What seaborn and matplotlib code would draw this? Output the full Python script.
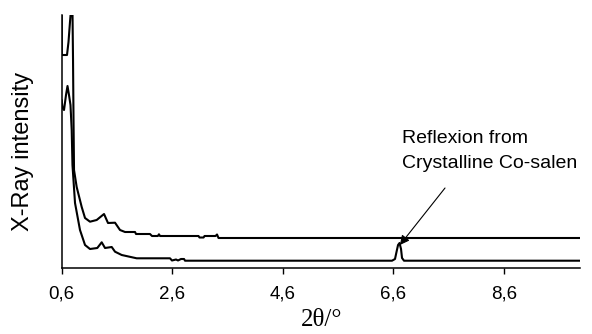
import matplotlib
matplotlib.use("Agg")
import matplotlib.pyplot as plt
import seaborn as sns
import pandas as pd

# 2theta (deg) and X-ray intensity (arbitrary units)
upper_x = [0.600, 0.601, 0.696, 0.723, 0.750, 0.768, 0.795, 0.805, 0.814, 0.823,
           0.871, 0.962, 1.022, 1.112, 1.233, 1.366, 1.438, 1.565, 1.655, 1.746,
           1.927, 1.945, 2.198, 2.234, 2.340, 2.360, 2.380, 3.076, 3.094, 3.167,
           3.185, 3.384, 3.411, 3.438, 9.980]
upper_y = [262, 213, 213, 226, 246, 258, 258, 208, 148, 98,
           81, 61, 50, 46.3, 48, 54, 45, 45.3, 38, 36,
           36, 34, 34, 32, 32, 33.7, 32, 32, 30.5, 30.5,
           32, 32, 33.5, 30, 30]

lower_x = [0.600, 0.614, 0.642, 0.678, 0.705, 0.732, 0.759, 0.781, 0.795, 0.841,
           0.931, 1.022, 1.112, 1.244, 1.324, 1.384, 1.505, 1.565, 1.686, 1.957,
           2.560, 2.596, 2.669, 2.705, 2.759, 2.814, 2.832, 6.578, 6.632, 6.659,
           6.687, 6.714, 6.741, 6.759, 6.795, 9.980]
lower_y = [168, 160, 158, 173, 182, 173, 163, 138, 103, 65,
           38, 23, 19, 20, 25.7, 20, 21, 16.3, 13, 9.7,
           9.7, 7.5, 8.5, 7.5, 9, 9, 7.3, 7.3, 9, 16,
           23, 25, 19, 10, 7.3, 7.3]

tick_vals = [0.6, 2.6, 4.6, 6.6, 8.6]
tick_labels = ["0,6", "2,6", "4,6", "6,6", "8,6"]

sns.set_theme(style="white")
plt.rcParams["font.family"] = ["Liberation Sans", "DejaVu Sans"]

fig = plt.figure(figsize=(5.92, 3.34), dpi=100)
W, H = 592, 334
left, right, top, bottom = 61.7, 580, 15, 268
ax = fig.add_axes([left / W, (H - bottom) / H, (right - left) / W, (bottom - top) / H])

df_u = pd.DataFrame({"x": upper_x, "y": upper_y})
df_l = pd.DataFrame({"x": lower_x, "y": lower_y})
sns.lineplot(data=df_u, x="x", y="y", sort=False, estimator=None, color="black", lw=1.5, ax=ax)
sns.lineplot(data=df_l, x="x", y="y", sort=False, estimator=None, color="black", lw=1.5, ax=ax)

ax.set_xlim(0.6, 9.98)
ax.set_ylim(0, 253)
ax.set_xticks(tick_vals)
ax.set_xticklabels(tick_labels, fontsize=13.5)
ax.set_yticks([])
ax.tick_params(axis="x", direction="out", length=4, width=1, pad=8.5, bottom=True, colors="black")
for s in ["top", "right"]:
    ax.spines[s].set_visible(False)
for s in ["left", "bottom"]:
    ax.spines[s].set_color("black")
    ax.spines[s].set_linewidth(1.1)

ax.set_ylabel("X-Ray intensity", fontsize=17, color="black")
ax.yaxis.set_label_coords(-0.0756, 0.462)
ax.yaxis.label.set_va("center")
ax.set_xlabel("2θ/°", fontsize=18, color="black", family=["Liberation Serif", "DejaVu Serif"])
ax.xaxis.set_label_coords(0.502, -0.2055)
ax.xaxis.label.set_va("center")

ax.annotate("", xy=(6.72, 23), xytext=(7.537, 80),
            arrowprops=dict(arrowstyle="-|>", color="black", lw=0.8,
                            mutation_scale=14, shrinkA=0, shrinkB=0))
ax.text(6.754, 130, "Reflexion from", fontsize=14, ha="left", va="center", color="black")
ax.text(6.754, 104, "Crystalline Co-salen", fontsize=14, ha="left", va="center", color="black")

fig.savefig("out.png", dpi=100)
